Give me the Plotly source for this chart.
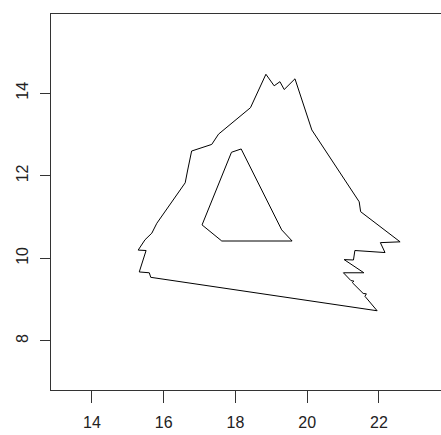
import plotly.graph_objects as go

# Outer boundary of the polygon (closed)
outer_x = [18.85, 19.08, 19.24, 19.36, 19.66, 19.86, 20.13, 21.45, 21.49, 22.59,
           22.04, 22.17, 21.75, 21.33, 21.29, 21.03, 21.58, 21.01,
           21.22, 21.30, 21.26, 21.56, 21.65, 21.61,
           21.95, 15.64, 15.60, 15.32, 15.51, 15.29, 15.48, 15.67, 15.81,
           16.60, 16.67, 16.78, 17.34, 17.53, 18.42, 18.85]
outer_y = [14.46, 14.18, 14.28, 14.09, 14.35, 13.84, 13.11, 11.37, 11.13, 10.40,
           10.38, 10.14, 10.16, 10.19, 9.96, 9.97, 9.65, 9.65,
           9.46, 9.45, 9.41, 9.15, 9.14, 9.08,
           8.73, 9.54, 9.65, 9.67, 10.19, 10.20, 10.45, 10.61, 10.85,
           11.83, 12.14, 12.60, 12.76, 13.01, 13.65, 14.46]

# Inner hole (closed)
inner_x = [17.89, 18.16, 19.29, 19.58, 17.62, 17.07, 17.89]
inner_y = [12.57, 12.65, 10.69, 10.42, 10.42, 10.81, 12.57]

x_ticks = [14, 16, 18, 20, 22]
y_ticks = [8, 10, 12, 14]

fig = go.Figure()
fig.add_trace(go.Scatter(x=outer_x, y=outer_y, mode="lines",
                         line=dict(color="black", width=1), hoverinfo="skip"))
fig.add_trace(go.Scatter(x=inner_x, y=inner_y, mode="lines",
                         line=dict(color="black", width=1), hoverinfo="skip"))

font = dict(family="Liberation Sans, Arial, sans-serif", size=16, color="#222222")

fig.update_layout(
    width=441, height=435,
    margin=dict(l=51, r=0, t=14, b=45),
    paper_bgcolor="white", plot_bgcolor="white",
    showlegend=False,
    font=font,
    xaxis=dict(range=[12.86, 23.73], tickvals=x_ticks, ticktext=[str(v) for v in x_ticks],
               showgrid=False, zeroline=False, showline=True, linecolor="#333333",
               linewidth=1, mirror=True, ticks="outside", ticklen=12, tickwidth=1,
               tickcolor="#333333", tickfont=font, ticklabelstandoff=6),
    yaxis=dict(range=[6.81, 15.92], tickvals=y_ticks, ticktext=[str(v) for v in y_ticks],
               showgrid=False, zeroline=False, showline=True, linecolor="#333333",
               linewidth=1, mirror=False, ticks="outside", ticklen=10, tickwidth=1,
               tickcolor="#333333", tickangle=-90, tickfont=font, ticklabelstandoff=6),
)

fig.write_html("out.html")
